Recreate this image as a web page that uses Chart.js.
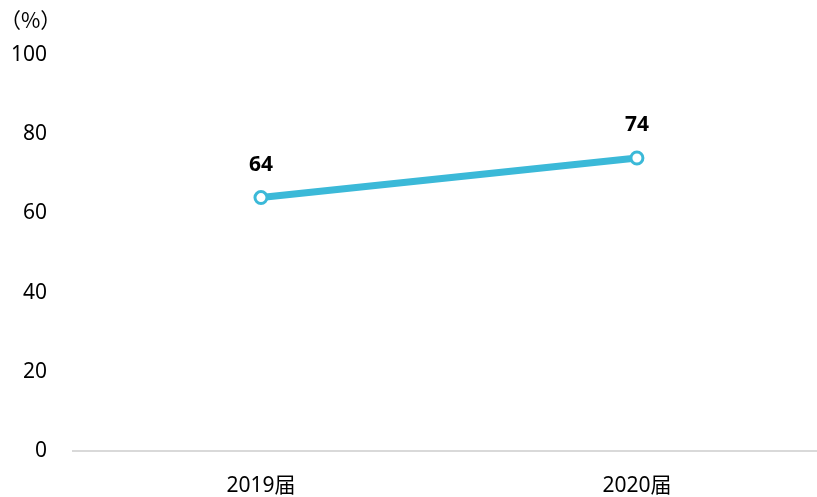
<!DOCTYPE html>
<html><head><meta charset="utf-8">
<script src="https://cdn.jsdelivr.net/npm/chart.js@4/dist/chart.umd.min.js"></script>
<style>html,body{margin:0;padding:0;overflow:hidden;background:#fff}canvas{display:block}</style>
</head><body><canvas id="c" width="817" height="497" style="width:817px;height:497px"></canvas>
<script>
const categories = ["2019届", "2020届"];
const values = [64, 74];
const yTicks = [0, 20, 40, 60, 80, 100];
const unitLabel = "（%）";

const FONT = "'Noto Sans', 'Noto Sans CJK SC', sans-serif";

const labelPlugin = {
  id: 'labels',
  afterDatasetsDraw(chart) {
    const ctx = chart.ctx;
    const meta = chart.getDatasetMeta(0);
    ctx.save();
    ctx.fillStyle = '#000';
    ctx.font = "bold 21px " + FONT;
    ctx.textAlign = 'center';
    ctx.textBaseline = 'middle';
    meta.data.forEach((pt, i) => {
      ctx.fillText(String(values[i]), pt.x, pt.y - 33);
    });
    ctx.font = "21px 'Noto Sans CJK SC', sans-serif";
    ctx.textAlign = 'left';
    ctx.fillText(unitLabel, 0, 20);
    ctx.restore();
  }
};

new Chart(document.getElementById('c'), {
  type: 'line',
  data: {
    datasets: [{
      data: values.map((v, i) => ({ x: i, y: v })),
      borderColor: '#3bb9d8',
      borderWidth: 7,
      pointRadius: 6,
      pointBorderWidth: 3,
      pointBackgroundColor: '#fff',
      pointBorderColor: '#3bb9d8',
      tension: 0,
      clip: false
    }]
  },
  options: {
    responsive: false,
    animation: false,
    layout: { autoPadding: false, padding: { top: 55, left: 0, right: 0, bottom: 0 } },
    plugins: { legend: { display: false }, tooltip: { enabled: false } },
    scales: {
      x: {
        type: 'linear',
        min: -0.5, max: 1.479,
        afterBuildTicks(axis) { axis.ticks = categories.map((c, i) => ({ value: i })); },
        afterFit(axis) { axis.height = 46; axis.paddingLeft = 0; axis.paddingRight = 0; },
        grid: { display: false, drawTicks: false },
        border: { display: true, color: '#d9d9d9', width: 2 },
        ticks: { color: '#000', font: { size: 21, family: FONT }, padding: 22, maxRotation: 0,
                 callback: (v) => categories[v] }
      },
      y: {
        min: 0, max: 100,
        afterBuildTicks(axis) { axis.ticks = yTicks.map(v => ({ value: v })); },
        afterFit(axis) { axis.width = 73; },
        grid: { display: false, drawTicks: false },
        border: { display: false },
        ticks: { color: '#000', font: { size: 21, family: FONT }, padding: 26 }
      }
    }
  },
  plugins: [labelPlugin]
});
</script></body></html>
